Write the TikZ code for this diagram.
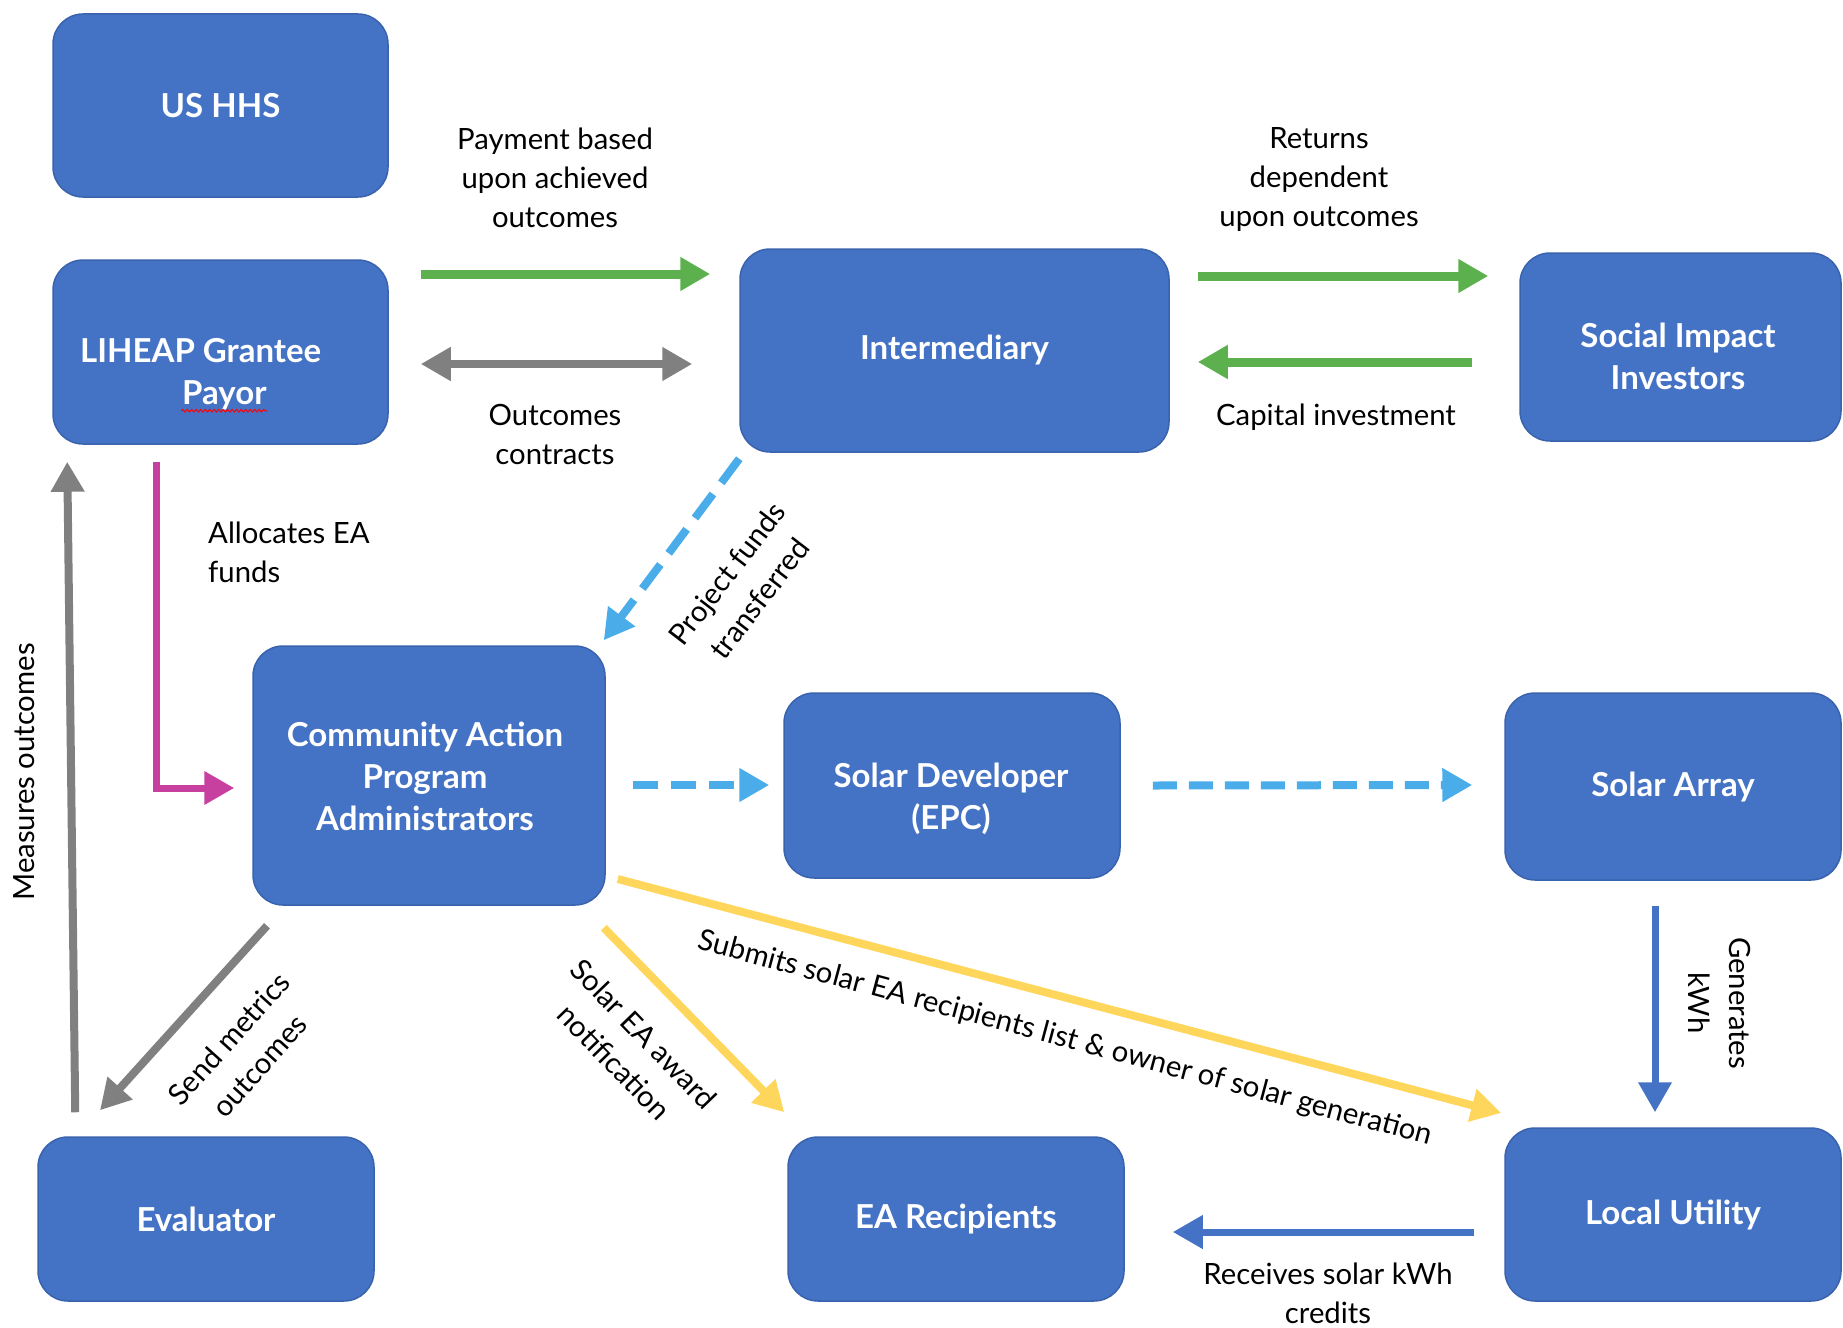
\documentclass[tikz,border=0pt]{standalone}
\usepackage{fontspec}
\setmainfont{Lato}
\usetikzlibrary{arrows.meta,calc,decorations.pathmorphing}
\definecolor{boxblue}{HTML}{4472C4}
\definecolor{boxedge}{HTML}{3A63AE}
\definecolor{agreen}{HTML}{5DB04E}
\definecolor{agray}{HTML}{808080}
\definecolor{amag}{HTML}{C8409F}
\definecolor{alblue}{HTML}{4AADEA}
\definecolor{ayellow}{HTML}{FFD65C}
\definecolor{ablue}{HTML}{4472C4}
\begin{document}
\begin{tikzpicture}[x=1pt,y=-1pt,
  box/.style={draw=boxedge, line width=1.5pt, fill=boxblue, rounded corners=30pt, inner sep=0pt},
  boxtext/.style={text=white, font=\fontsize{33}{42}\selectfont\bfseries, align=center, inner sep=0pt},
  lbl/.style={font=\fontsize{29.3}{39}\selectfont, align=center, text=black, inner sep=0pt},
  rlbl/.style={font=\fontsize{29.3}{41}\selectfont, align=center, text=black, inner sep=0pt},
  tip/.style={-{Triangle[length=30pt,width=32pt]}},
  dtip/.style={{Triangle[length=30pt,width=32pt]}-{Triangle[length=30pt,width=32pt]}},
  greenarrow/.style={draw=agreen, line width=9pt, tip},
  grayarrow/.style={draw=agray, line width=8pt},
  magarrow/.style={draw=amag, line width=7pt, tip},
  lbarrow/.style={draw=alblue, line width=8pt, tip},
  yelarrow/.style={draw=ayellow, line width=8pt, tip},
  bluearrow/.style={draw=ablue, line width=7pt, tip},
]
\useasboundingbox (0,0) rectangle (1843,1327);

% boxes
\node[box, minimum width=335pt, minimum height=183pt] (hhs) at (220.5,105.5) {};
\node[boxtext] (hhsT) at (hhs.center) {US HHS};
\node[box, minimum width=335pt, minimum height=184pt] (lih) at (220.5,352) {};
\node[boxtext, align=left, anchor=west] (lihT) at (80,374) {LIHEAP Grantee\\\hspace*{102pt}Payor};
\node[box, minimum width=429pt, minimum height=203pt] (int) at (954.5,350.5) {};
\node[boxtext] (intT) at (int.center) {Intermediary};
\node[box, minimum width=321pt, minimum height=188pt] (sii) at (1680.5,347) {};
\node[boxtext] (siiT) at (1678,356) {Social Impact\\Investors};
\node[box, minimum width=352pt, minimum height=259pt] (cap) at (429,775.5) {};
\node[boxtext] (capT) at (425,776) {Community Action\\Program\\Administrators};
\node[box, minimum width=336pt, minimum height=185pt] (sd) at (952,785.5) {};
\node[boxtext] (sdT) at (951,799) {Solar Developer\\(EPC)};
\node[box, minimum width=336pt, minimum height=187pt] (sa) at (1673,786.5) {};
\node[boxtext] (saT) at (sa.center) {Solar Array};
\node[box, minimum width=336pt, minimum height=164pt] (ev) at (206,1219) {};
\node[boxtext] (evT) at (ev.center) {Evaluator};
\node[box, minimum width=336pt, minimum height=164pt] (ear) at (956,1219) {};
\node[boxtext] (earT) at (ear.center) {EA Recipients};
\node[box, minimum width=336pt, minimum height=173pt] (lu) at (1673,1214.5) {};
\node[boxtext] (luT) at (lu.center) {Local Utility};

% spell-check squiggle under Payor
\draw[red, line width=1pt, decorate, decoration={snake, amplitude=1.3pt, segment length=4.5pt}]
  ($(lih.south west)+(129,-34)$) -- ($(lih.south west)+(215,-34)$);

% arrows
\draw[greenarrow] ($(lih.east)+(32,-78)$) -- ($(int.west)+(-29,-76.5)$);
\draw[grayarrow, dtip] ($(lih.east)+(32,12)$) -- ($(int.west)+(-47,13.5)$);
\draw[greenarrow] ($(int.east)+(28,-74.5)$) -- ($(sii.west)+(-31,-71)$);
\draw[greenarrow] ($(sii.west)+(-47,15)$) -- ($(int.east)+(28,11.5)$);
\draw[lbarrow, dash pattern=on 30pt off 14pt] ($(int.south west)+(0,6)$) -- ($(cap.north east)+(-2,-5)$);
\draw[magarrow] ($(lih.south)+(-64.5,17)$) |- ($(cap.west)+(-18,12.5)$);
\draw[grayarrow, tip] ($(ev.north west)+(38,-24)$) -- ($(lih.south west)+(15,17)$);
\draw[lbarrow, dash pattern=on 25pt off 13pt] ($(cap.east)+(27,9.5)$) -- ($(sd.west)+(-14,-0.5)$);
\draw[lbarrow, dash pattern=on 24pt off 12pt] ($(sd.east)+(32,0)$) -- ($(sa.west)+(-32,-1.5)$);
\draw[grayarrow, tip] ($(cap.south)+(-162,20)$) -- ($(ev.north)+(-106,-26)$);
\draw[yelarrow] ($(cap.south east)+(-2,22)$) -- ($(ear.north west)+(-3,-24)$);
\draw[yelarrow] ($(cap.east)+(12,103.5)$) -- ($(lu.west)+(-3,-101.5)$);
\draw[bluearrow] ($(sa.south)+(-18,25)$) -- ($(lu.north)+(-18,-15)$);
\draw[bluearrow] ($(lu.west)+(-30,17.5)$) -- ($(ear.east)+(48,13)$);

% labels
\node[lbl] (payL) at (555,178) {Payment based\\upon achieved\\outcomes};
\node[lbl] (retL) at (1319,180) {Returns\\dependent\\upon outcomes};
\node[lbl] (outL) at (555,434) {Outcomes\\contracts};
\node[lbl] (capL) at (1336,417) {Capital investment};
\node[lbl, align=left, anchor=west] (allL) at (208,552) {Allocates EA\\funds};
\node[rlbl, rotate=52.5] (prjL) at (743,586) {Project funds\\transferred};
\node[lbl, rotate=90] (meaL) at (24,772) {Measures outcomes};
\node[rlbl, rotate=48] (sndL) at (244,1052) {Send metrics\\outcomes};
\node[rlbl, rotate=-46] (solL) at (629,1048) {Solar EA award\\notification};
\node[lbl, rotate=-15.0] (subL) at (1065,1039) {Submits solar EA recipients list \& owner of solar generation};
\node[rlbl, rotate=-90] (genL) at (1720,1003) {Generates\\kWh};
\node[lbl] (recL) at (1328,1293) {Receives solar kWh\\credits};
\end{tikzpicture}
\end{document}
